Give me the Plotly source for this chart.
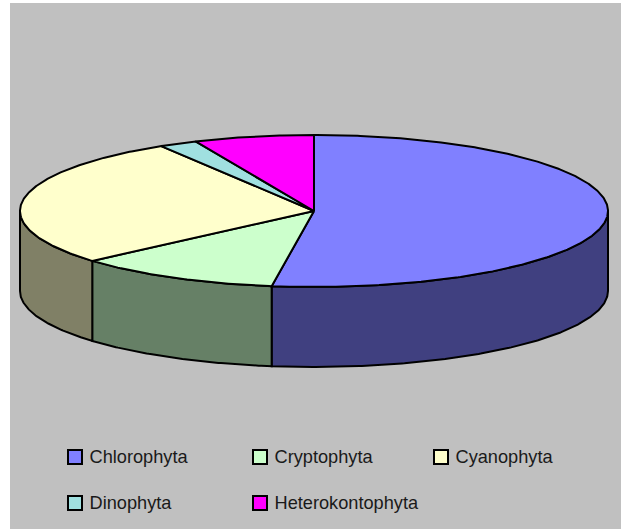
import numpy as np
import plotly.graph_objects as go

categories = ["Chlorophyta", "Cryptophyta", "Cyanophyta", "Dinophyta", "Heterokontophyta"]
values = [52.3, 11.3, 27.7, 2.1, 6.6]
top_colors = ["#8080FF", "#CCFFCC", "#FFFFCC", "#A0E0E0", "#FF00FF"]
wall_colors = ["#404080", "#668066", "#808066", "#507070", "#800080"]

W, H = 621, 529
CX, CY, RX, RY, DEPTH = 314, 211, 294, 76, 80
LEGEND_X = [75, 260, 441, 75, 260]
LEGEND_Y = [457, 457, 457, 503, 503]
LEGEND_TEXT_DX = 14.5
LEGEND_TEXT_DY = 1


def rim(a0, a1, drop=0.0):
    t = np.radians(np.linspace(a0, a1, max(int(abs(a1 - a0) * 2), 2)))
    return CX + RX * np.sin(t), CY - RY * np.cos(t) + drop


fig = go.Figure()
cum = np.concatenate([[0], np.cumsum(values) / np.sum(values) * 360])

# Side walls: only the part of each slice facing the viewer (90 to 270 degrees)
for i in range(len(values)):
    a0, a1 = max(cum[i], 90), min(cum[i + 1], 270)
    if a1 <= a0:
        continue
    xt, yt = rim(a0, a1)
    xb, yb = rim(a1, a0, DEPTH)
    fig.add_trace(go.Scatter(
        x=np.r_[xt, xb, xt[0]], y=np.r_[yt, yb, yt[0]],
        mode="lines", fill="toself", fillcolor=wall_colors[i],
        line=dict(color="black", width=2), hoverinfo="skip", showlegend=False))

# Top face
for i in range(len(values)):
    xt, yt = rim(cum[i], cum[i + 1])
    fig.add_trace(go.Scatter(
        x=np.r_[CX, xt, CX], y=np.r_[CY, yt, CY],
        mode="lines", fill="toself", fillcolor=top_colors[i],
        line=dict(color="black", width=2), hoverinfo="skip", showlegend=False))

# Legend
fig.add_trace(go.Scatter(
    x=LEGEND_X, y=LEGEND_Y, mode="markers",
    marker=dict(symbol="square", size=14, color=top_colors, line=dict(color="black", width=2)),
    hoverinfo="skip", showlegend=False))
fig.add_trace(go.Scatter(
    x=[v + LEGEND_TEXT_DX for v in LEGEND_X], y=[v + LEGEND_TEXT_DY for v in LEGEND_Y], mode="text",
    text=categories, textposition="middle right",
    textfont=dict(family="Liberation Sans, Arial, sans-serif", size=18.2, color="#1a1a1a"),
    hoverinfo="skip", showlegend=False))

fig.update_layout(
    width=W, height=H, autosize=False,
    margin=dict(l=10, r=0, t=3, b=0),
    paper_bgcolor="white", plot_bgcolor="#C0C0C0",
    xaxis=dict(range=[10, W], visible=False, fixedrange=True),
    yaxis=dict(range=[H, 3], visible=False, fixedrange=True),
    hovermode=False,
)
fig.write_html("out.html", config={"displayModeBar": False},
               post_script="document.body.style.margin='0';document.body.style.overflow='hidden';")
